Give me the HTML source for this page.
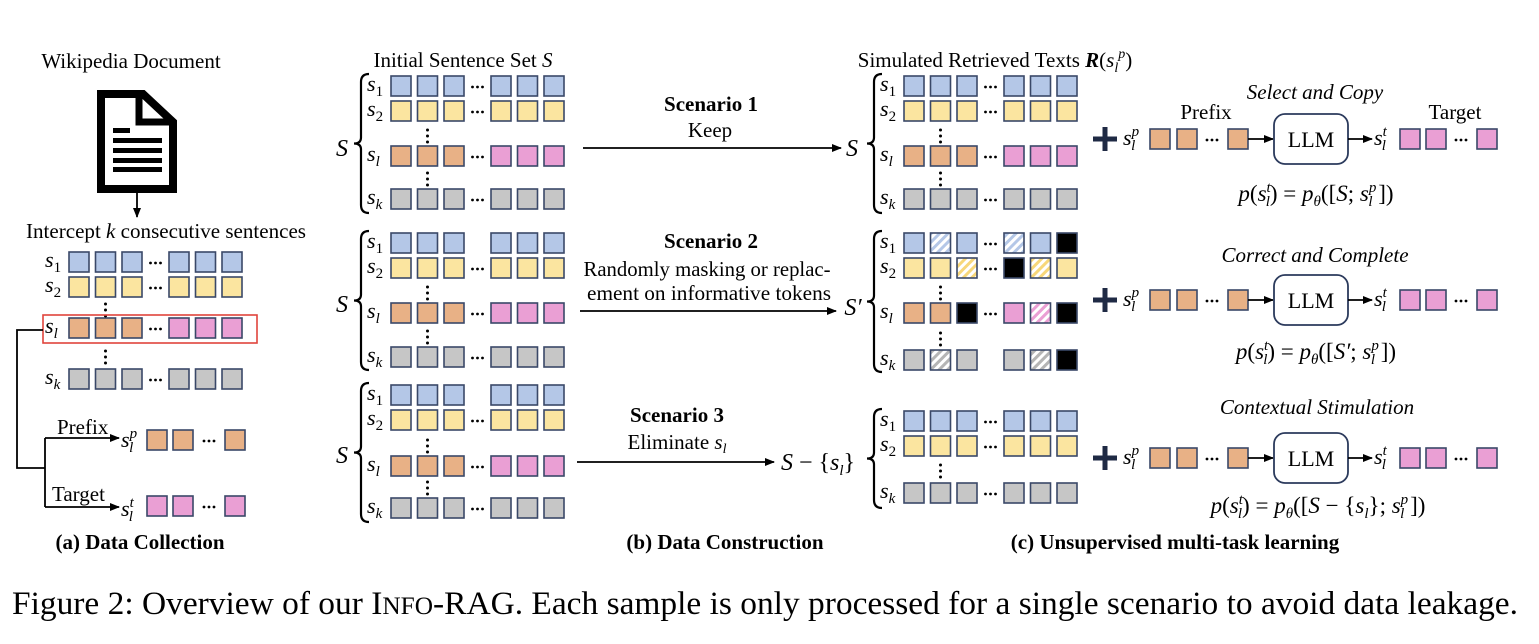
<!DOCTYPE html>
<html><head><meta charset="utf-8"><style>
html,body{margin:0;padding:0;background:#fff;}
svg{display:block;font-family:"Liberation Serif",serif;}
</style></head><body>
<svg id="s" width="1539" height="644" viewBox="0 0 1539 644" xmlns="http://www.w3.org/2000/svg">
<defs>
<marker id="ar" markerWidth="10" markerHeight="8" refX="9" refY="4" orient="auto" markerUnits="userSpaceOnUse"><path d="M0,0 L10,4 L0,8 z" fill="#000"/></marker>
<pattern id="hb" width="6" height="6" patternUnits="userSpaceOnUse" patternTransform="rotate(45)"><rect width="6" height="6" fill="#fff"/><rect width="3" height="6" fill="#b4c7e7"/></pattern>
<pattern id="hy" width="6" height="6" patternUnits="userSpaceOnUse" patternTransform="rotate(45)"><rect width="6" height="6" fill="#fff"/><rect width="3" height="6" fill="#f7d77a"/></pattern>
<pattern id="hp" width="6" height="6" patternUnits="userSpaceOnUse" patternTransform="rotate(45)"><rect width="6" height="6" fill="#fff"/><rect width="3" height="6" fill="#ea9fd4"/></pattern>
<pattern id="hg" width="6" height="6" patternUnits="userSpaceOnUse" patternTransform="rotate(45)"><rect width="6" height="6" fill="#fff"/><rect width="3" height="6" fill="#b5b5b5"/></pattern>
</defs>
<g id="g"></g>
<g font-size="21" fill="#000">
<text x="131" y="68" text-anchor="middle">Wikipedia Document</text>
<text x="166" y="238" text-anchor="middle" textLength="280" lengthAdjust="spacingAndGlyphs">Intercept <tspan font-style="italic">k</tspan> consecutive sentences</text>
<text x="463" y="67" text-anchor="middle">Initial Sentence Set <tspan font-style="italic">S</tspan></text>
<text x="995" y="67" text-anchor="middle">Simulated Retrieved Texts <tspan font-weight="bold" font-style="italic">R</tspan>(<tspan font-style="italic">s</tspan><tspan font-size="14" dy="5" font-style="italic">l</tspan><tspan font-size="14" dy="-14" font-style="italic">p</tspan><tspan dy="9">)</tspan></text>
<text x="57" y="434">Prefix</text>
<text x="52" y="501">Target</text>
<text x="711" y="111" text-anchor="middle" font-weight="bold">Scenario 1</text>
<text x="710" y="137" text-anchor="middle">Keep</text>
<text x="711" y="248" text-anchor="middle" font-weight="bold">Scenario 2</text>
<text x="707" y="276" text-anchor="middle" textLength="247" lengthAdjust="spacingAndGlyphs">Randomly masking or replac-</text>
<text x="709" y="300" text-anchor="middle" textLength="244" lengthAdjust="spacingAndGlyphs">ement  on informative tokens</text>
<text x="677" y="422" text-anchor="middle" font-weight="bold">Scenario 3</text>
<text x="677" y="449" text-anchor="middle">Eliminate <tspan font-style="italic">s</tspan><tspan font-size="14" dy="4" font-style="italic">l</tspan></text>
<text x="1315" y="99" text-anchor="middle" font-style="italic">Select and Copy</text>
<text x="1206" y="119" text-anchor="middle">Prefix</text>
<text x="1455" y="119" text-anchor="middle">Target</text>
<text x="1315" y="262" text-anchor="middle" font-style="italic">Correct and Complete</text>
<text x="1317" y="414" text-anchor="middle" font-style="italic">Contextual Stimulation</text>
<g font-size="23">
<text x="1316" y="201" text-anchor="middle"><tspan font-style="italic">p</tspan>(<tspan font-style="italic">s</tspan><tspan font-size="15" dy="-9" font-style="italic">t</tspan><tspan font-size="15" dy="14" dx="-5" font-style="italic">l</tspan><tspan dy="-5">) = </tspan><tspan font-style="italic">p</tspan><tspan font-size="15" dy="5" font-style="italic">θ</tspan><tspan dy="-5">([</tspan><tspan font-style="italic">S</tspan>; <tspan font-style="italic">s</tspan><tspan font-size="15" dy="-9" font-style="italic">p</tspan><tspan font-size="15" dy="14" dx="-8" font-style="italic">l</tspan><tspan dy="-5"> ])</tspan></text>
<text x="1316" y="359" text-anchor="middle"><tspan font-style="italic">p</tspan>(<tspan font-style="italic">s</tspan><tspan font-size="15" dy="-9" font-style="italic">t</tspan><tspan font-size="15" dy="14" dx="-5" font-style="italic">l</tspan><tspan dy="-5">) = </tspan><tspan font-style="italic">p</tspan><tspan font-size="15" dy="5" font-style="italic">θ</tspan><tspan dy="-5">([</tspan><tspan font-style="italic">S′</tspan>; <tspan font-style="italic">s</tspan><tspan font-size="15" dy="-9" font-style="italic">p</tspan><tspan font-size="15" dy="14" dx="-8" font-style="italic">l</tspan><tspan dy="-5"> ])</tspan></text>
<text x="1318" y="513" text-anchor="middle"><tspan font-style="italic">p</tspan>(<tspan font-style="italic">s</tspan><tspan font-size="15" dy="-9" font-style="italic">t</tspan><tspan font-size="15" dy="14" dx="-5" font-style="italic">l</tspan><tspan dy="-5">) = </tspan><tspan font-style="italic">p</tspan><tspan font-size="15" dy="5" font-style="italic">θ</tspan><tspan dy="-5">([</tspan><tspan font-style="italic">S</tspan> − {<tspan font-style="italic">s</tspan><tspan font-size="15" dy="5" font-style="italic">l</tspan><tspan dy="-5">}; </tspan><tspan font-style="italic">s</tspan><tspan font-size="15" dy="-9" font-style="italic">p</tspan><tspan font-size="15" dy="14" dx="-8" font-style="italic">l</tspan><tspan dy="-5"> ])</tspan></text>
</g>
<g font-size="24" font-style="italic">
<text x="342" y="156" text-anchor="middle">S</text>
<text x="342" y="312" text-anchor="middle">S</text>
<text x="342" y="463" text-anchor="middle">S</text>
<text x="852" y="156" text-anchor="middle">S</text>
<text x="853" y="315" text-anchor="middle">S′</text>
</g>
<text x="818" y="470" text-anchor="middle" font-size="24"><tspan font-style="italic">S</tspan> − {<tspan font-style="italic">s</tspan><tspan font-size="15" dy="5" font-style="italic">l</tspan><tspan dy="-5">}</tspan></text>
<text x="140" y="549" text-anchor="middle" font-weight="bold" textLength="169" lengthAdjust="spacingAndGlyphs">(a) Data Collection</text>
<text x="725" y="549" text-anchor="middle" font-weight="bold">(b) Data Construction</text>
<text x="1175" y="549" text-anchor="middle" font-weight="bold">(c) Unsupervised multi-task learning</text>
<text x="12" y="614" font-size="33" textLength="1506" lengthAdjust="spacingAndGlyphs">Figure 2: Overview of our I<tspan font-size="25">NFO</tspan>-RAG. Each sample is only processed for a single scenario to avoid data leakage.</text>
</g>
</svg>
<script>
var NS="http://www.w3.org/2000/svg",G=document.getElementById("g");
function el(t,a,txt){var e=document.createElementNS(NS,t);for(var k in a)e.setAttribute(k,a[k]);if(txt!=null)e.textContent=txt;G.appendChild(e);return e;}
var C={b:"#b4c7e7",y:"#fbe5a0",o:"#e8b186",p:"#ea9fd4",g:"#c6c6c6",k:"#000",B:"url(#hb)",Y:"url(#hy)",P:"url(#hp)",Gg:"url(#hg)"};
function box(x,y,c){el("rect",{x:x,y:y,width:20,height:20,fill:C[c],stroke:"#3a4868","stroke-width":1.6});}
function hdots(x,y){for(var i=-1;i<=1;i++)el("circle",{cx:x+i*5,cy:y+11,r:1.4,fill:"#000"});}
var OFF=[0,26.5,53,100,126.5,153];
function row(x0,y,cells,dots){for(var i=0;i<6;i++)if(cells[i])box(x0+OFF[i],y,cells[i]);if(dots)hdots(x0+86.5,y);}
function vdots(x,y1){for(var i=0;i<3;i++)el("circle",{cx:x,cy:y1+i*6,r:1.5,fill:"#000"});}
function slab(x,y,sub,sup){var t=el("text",{x:x,y:y,"font-size":22,"font-style":"italic"});
 var a=document.createElementNS(NS,"tspan");a.textContent="s";t.appendChild(a);
 if(sup){var c=document.createElementNS(NS,"tspan");c.setAttribute("font-size",15);c.setAttribute("dy",-9);c.textContent=sup;t.appendChild(c);
  var b=document.createElementNS(NS,"tspan");b.setAttribute("font-size",15);b.setAttribute("dy",14);b.setAttribute("dx",-(sup=="p"?8:5));b.textContent=sub;t.appendChild(b);}
 else{var b=document.createElementNS(NS,"tspan");b.setAttribute("font-size",15);b.setAttribute("dy",5);if(!(sub=="l"||sub=="k"))b.setAttribute("font-style","normal");b.textContent=sub;t.appendChild(b);}}
function brace(x,y1,y2){var m=(y1+y2)/2;el("path",{d:"M"+(x+8)+","+y1+" Q"+x+","+y1+" "+x+","+(y1+8)+" L"+x+","+(m-6)+" Q"+x+","+m+" "+(x-7)+","+m+" Q"+x+","+m+" "+x+","+(m+6)+" L"+x+","+(y2-8)+" Q"+x+","+y2+" "+(x+8)+","+y2,fill:"none",stroke:"#000","stroke-width":2.2});}
function line(x1,y1,x2,y2,arrow){var a={x1:x1,y1:y1,x2:x2,y2:y2,stroke:"#000","stroke-width":1.8};if(arrow)a["marker-end"]="url(#ar)";el("line",a);}
function group(x0,ys,rows,labs,dotsArr,vd){for(var i=0;i<rows.length;i++){row(x0,ys[i],rows[i],dotsArr[i]);slab(x0-24,ys[i]+15,labs[i]);}
 vd.forEach(function(v){vdots(x0+36.5,v);});}
var R1=["b","b","b","b","b","b"],R2=["y","y","y","y","y","y"],RL=["o","o","o","p","p","p"],RK=["g","g","g","g","g","g"];
group(69,[252,277,318,369],[R1,R2,RL,RK],["1","2","l","k"],[1,1,1,1],[304,351]);
el("rect",{x:43,y:315,width:214,height:28,fill:"none",stroke:"#e0443c","stroke-width":1.6});
el("path",{d:"M101,94 L143,94 L173,122 L173,189 L101,189 Z",fill:"none",stroke:"#000","stroke-width":8,"stroke-linejoin":"miter"});
el("path",{d:"M139,94 L139,122 L173,122",fill:"none",stroke:"#000","stroke-width":7});
el("rect",{x:113,y:128,width:17,height:5});
[138,148,158,167].forEach(function(y){el("rect",{x:113,y:y,width:49,height:5});});
line(137,193,137,217,true);
el("path",{d:"M43,330 L17,330 L17,468 L45,468",fill:"none",stroke:"#000","stroke-width":1.8});
el("path",{d:"M45,438 L45,507",fill:"none",stroke:"#000","stroke-width":1.8});
line(45,438,119,438,true);line(45,507,119,507,true);
slab(121,447,"l","p");box(147,430,"o");box(173,430,"o");hdots(209,430);box(225,430,"o");
slab(121,516,"l","t");box(147,496,"p");box(173,496,"p");hdots(209,496);box(225,496,"p");
group(391,[76,101,146,189],[R1,R2,RL,RK],["1","2","l","k"],[1,1,1,1],[130,173]);brace(361,74,213);
group(391,[233,258,303,347],[R1,R2,RL,RK],["1","2","l","k"],[0,1,1,1],[287,331]);brace(361,231,370);
group(391,[385,410,456,498],[R1,R2,RL,RK],["1","2","l","k"],[0,1,1,1],[440,482]);brace(361,383,522);
line(583,148,841,148,true);line(580,311,836,311,true);line(577,462,774,462,true);
var X=904;
group(X,[76,101,146,189],[R1,R2,RL,RK],["1","2","l","k"],[1,1,1,1],[130,173]);brace(874,74,213);
group(X,[233,258,303,350],[["b","B","b","B","b","k"],["y","y","Y","k","Y","y"],["o","o","k","p","P","k"],["g","Gg","g","g","Gg","k"]],["1","2","l","k"],[1,1,1,0],[287,333]);brace(874,231,372);
group(X,[411,436,483],[R1,R2,RK],["1","2","k"],[1,1,1],[465]);brace(874,409,508);
[139,300,458].forEach(function(cy){
 var y=cy-10;
 el("rect",{x:1093,y:cy-2.5,width:24,height:5,fill:"#1f2a44"});el("rect",{x:1102.5,y:cy-12,width:5,height:24,fill:"#1f2a44"});
 slab(1123,cy+6,"l","p");box(1150,y,"o");box(1177,y,"o");hdots(1212,y);box(1228,y,"o");
 line(1248,cy,1273,cy,true);
 el("rect",{x:1274,y:cy-25,width:74,height:50,rx:11,fill:"#fff",stroke:"#2b3a5c","stroke-width":1.8});
 el("text",{x:1311,y:cy+8,"font-size":22,"text-anchor":"middle"},"LLM");
 line(1348,cy,1372,cy,true);
 slab(1374,cy+6,"l","t");box(1400,y,"p");box(1426,y,"p");hdots(1461,y);box(1477,y,"p");
});
</script>
</body></html>
